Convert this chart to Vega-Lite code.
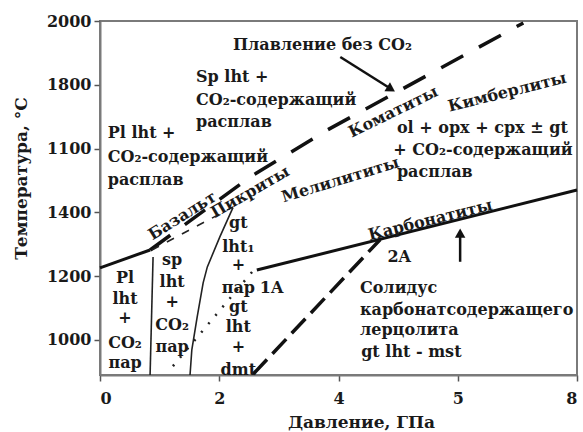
{
  "$schema": "https://vega.github.io/schema/vega-lite/v6.json",
  "width": 477,
  "height": 354,
  "autosize": {"type": "none"},
  "padding": {"left": 100, "top": 21, "right": 6, "bottom": 57},
  "background": "white",
  "config": {
    "view": {"stroke": "#7a7a7a", "strokeWidth": 2},
    "font": "DejaVu Serif",
    "text": {"font": "DejaVu Serif", "fontWeight": "bold", "fontSize": 16, "color": "#1a1a1a", "baseline": "middle"}
  },
  "data": {
    "values": [
      {"kind": "solid3", "id": "s1", "o": 1, "P": 0, "T": 1226},
      {"kind": "solid3", "id": "s1", "o": 2, "P": 0.84, "T": 1282},
      {"kind": "solid3", "id": "carb", "o": 1, "P": 2.63, "T": 1219},
      {"kind": "solid3", "id": "carb", "o": 2, "P": 8, "T": 1470},
      {"kind": "thin", "id": "spgt", "o": 1, "P": 2.23, "T": 1415},
      {"kind": "thin", "id": "spgt", "o": 2, "P": 2.01, "T": 1323},
      {"kind": "thin", "id": "spgt", "o": 3, "P": 1.8, "T": 1229},
      {"kind": "thin", "id": "spgt", "o": 4, "P": 1.73, "T": 1179},
      {"kind": "thin", "id": "spgt", "o": 5, "P": 1.63, "T": 1072},
      {"kind": "thin", "id": "spgt", "o": 6, "P": 1.54, "T": 969},
      {"kind": "thin", "id": "spgt", "o": 7, "P": 1.51, "T": 890},
      {"kind": "thin", "id": "plsp", "o": 1, "P": 0.89, "T": 1260},
      {"kind": "thin", "id": "plsp", "o": 2, "P": 0.84, "T": 890},
      {"kind": "dryDash", "id": "dry", "o": 1, "P": 0.84, "T": 1282},
      {"kind": "dryDash", "id": "dry", "o": 2, "P": 2.52, "T": 1511},
      {"kind": "dryDash", "id": "dry", "o": 3, "P": 3.81, "T": 1658},
      {"kind": "dryDash", "id": "dry", "o": 4, "P": 7.1, "T": 1994},
      {"kind": "decarbDash", "id": "dec", "o": 1, "P": 2.57, "T": 893},
      {"kind": "decarbDash", "id": "dec", "o": 2, "P": 4.7, "T": 1315},
      {"kind": "thinDash", "id": "td", "o": 1, "P": 0.87, "T": 1282},
      {"kind": "thinDash", "id": "td", "o": 2, "P": 2.23, "T": 1417},
      {"kind": "dots", "id": "dt", "o": 1, "P": 2.55, "T": 1213},
      {"kind": "dots", "id": "dt", "o": 2, "P": 1.17, "T": 906},
      {"kind": "arrow", "id": "a1", "o": 1, "P": 4.03, "T": 1887},
      {"kind": "arrow", "id": "a1", "o": 2, "P": 4.83, "T": 1793},
      {"kind": "arrow", "id": "a2", "o": 1, "P": 6.04, "T": 1245},
      {"kind": "arrow", "id": "a2", "o": 2, "P": 6.04, "T": 1326},
      {"kind": "headDR", "P": 4.86, "T": 1789},
      {"kind": "headUp", "P": 6.04, "T": 1330},
      {"kind": "tl", "t": "Pl lht +", "P": 0.13, "T": 1649},
      {"kind": "tl", "t": "CO₂-содержащий", "P": 0.13, "T": 1574},
      {"kind": "tl", "t": "расплав", "P": 0.13, "T": 1502},
      {"kind": "tl", "t": "Sp lht +", "P": 1.61, "T": 1824},
      {"kind": "tl", "t": "CO₂-содержащий", "P": 1.61, "T": 1752},
      {"kind": "tl", "t": "расплав", "P": 1.61, "T": 1683},
      {"kind": "tl", "t": "ol + opx + cpx ± gt", "P": 4.98, "T": 1665},
      {"kind": "tl", "t": "+ CO₂-содержащий", "P": 4.92, "T": 1596},
      {"kind": "tl", "t": "расплав", "P": 4.98, "T": 1527},
      {"kind": "tl", "t": "Солидус", "P": 4.36, "T": 1163},
      {"kind": "tl", "t": "карбонатсодержащего", "P": 4.36, "T": 1094},
      {"kind": "tl", "t": "лерцолита", "P": 4.36, "T": 1031},
      {"kind": "tl", "t": "gt lht - mst", "P": 4.38, "T": 962},
      {"kind": "tl", "t": "Плавление без CO₂", "P": 2.23, "T": 1925},
      {"kind": "tl", "t": "1A", "P": 2.68, "T": 1163},
      {"kind": "tl", "t": "2A", "P": 4.82, "T": 1260},
      {"kind": "tc", "t": "Pl", "P": 0.42, "T": 1194},
      {"kind": "tc", "t": "lht", "P": 0.42, "T": 1129},
      {"kind": "tc", "t": "+", "P": 0.42, "T": 1069},
      {"kind": "tc", "t": "CO₂", "P": 0.42, "T": 991},
      {"kind": "tc", "t": "пар", "P": 0.42, "T": 928},
      {"kind": "tc", "t": "sp", "P": 1.21, "T": 1251},
      {"kind": "tc", "t": "lht", "P": 1.21, "T": 1182},
      {"kind": "tc", "t": "+", "P": 1.21, "T": 1119},
      {"kind": "tc", "t": "CO₂", "P": 1.21, "T": 1047},
      {"kind": "tc", "t": "пар", "P": 1.21, "T": 978},
      {"kind": "tc", "t": "gt", "P": 2.32, "T": 1367},
      {"kind": "tc", "t": "lht₁", "P": 2.32, "T": 1292},
      {"kind": "tc", "t": "+", "P": 2.32, "T": 1235},
      {"kind": "tc", "t": "пар", "P": 2.32, "T": 1163},
      {"kind": "tc", "t": "gt", "P": 2.32, "T": 1103},
      {"kind": "tc", "t": "lht", "P": 2.32, "T": 1041},
      {"kind": "tc", "t": "+", "P": 2.32, "T": 978},
      {"kind": "tc", "t": "dmt", "P": 2.32, "T": 906},
      {"kind": "r32", "t": "Базальт", "P": 1.38, "T": 1389},
      {"kind": "r30", "t": "Пикриты", "P": 2.52, "T": 1464},
      {"kind": "r17", "t": "Мелилититы", "P": 4.03, "T": 1502},
      {"kind": "r26", "t": "Коматиты", "P": 4.92, "T": 1715},
      {"kind": "r14", "t": "Кимберлиты", "P": 6.83, "T": 1777},
      {"kind": "r14", "t": "Карбонатиты", "P": 5.54, "T": 1376}
    ]
  },
  "encoding": {
    "x": {
      "field": "P", "type": "quantitative",
      "scale": {"domain": [0, 8], "nice": false, "zero": false},
      "axis": {
        "values": [0, 2, 4, 6, 8], "grid": false,
        "labelExpr": "datum.value == 6 ? '5' : datum.label",
        "title": "Давление, ГПа",
        "titleFont": "DejaVu Serif", "titleFontWeight": "bold", "titleFontSize": 17, "titleColor": "#1a1a1a",
        "titleX": 261, "titleY": 47, "titleAlign": "center", "titleBaseline": "middle",
        "labelFont": "DejaVu Serif", "labelFontWeight": "bold", "labelFontSize": 16, "labelColor": "#1a1a1a",
        "labelPadding": 9,
        "domainColor": "#7a7a7a", "domainWidth": 2,
        "tickColor": "#555", "tickWidth": 1.5, "tickSize": 6
      }
    },
    "y": {
      "field": "T", "type": "quantitative",
      "scale": {"domain": [890, 2000], "nice": false, "zero": false},
      "axis": {
        "values": [1000, 1200, 1400, 1600, 1800, 2000], "grid": false,
        "labelExpr": "datum.value == 1600 ? '1100' : datum.value",
        "title": "Температура, °С",
        "titleFont": "DejaVu Serif", "titleFontWeight": "bold", "titleFontSize": 17, "titleColor": "#1a1a1a",
        "titleX": -79, "titleY": 157, "titleAlign": "center", "titleBaseline": "middle", "titleAngle": -90,
        "labelFont": "DejaVu Serif", "labelFontWeight": "bold", "labelFontSize": 16, "labelColor": "#1a1a1a",
        "labelPadding": 3,
        "domainColor": "#7a7a7a", "domainWidth": 2,
        "tickColor": "#555", "tickWidth": 1.5, "tickSize": 6
      }
    }
  },
  "layer": [
    {
      "transform": [{"filter": "datum.kind == 'solid3'"}],
      "mark": {"type": "line", "color": "#111", "strokeWidth": 3},
      "encoding": {"detail": {"field": "id"}, "order": {"field": "o"}}
    },
    {
      "transform": [{"filter": "datum.kind == 'thin'"}],
      "mark": {"type": "line", "color": "#222", "strokeWidth": 1.6},
      "encoding": {"detail": {"field": "id"}, "order": {"field": "o"}}
    },
    {
      "transform": [{"filter": "datum.kind == 'dryDash'"}],
      "mark": {"type": "line", "color": "#111", "strokeWidth": 3.5, "strokeDash": [25, 18]},
      "encoding": {"detail": {"field": "id"}, "order": {"field": "o"}}
    },
    {
      "transform": [{"filter": "datum.kind == 'decarbDash'"}],
      "mark": {"type": "line", "color": "#111", "strokeWidth": 3.5, "strokeDash": [20, 8]},
      "encoding": {"detail": {"field": "id"}, "order": {"field": "o"}}
    },
    {
      "transform": [{"filter": "datum.kind == 'thinDash'"}],
      "mark": {"type": "line", "color": "#222", "strokeWidth": 1.6, "strokeDash": [8, 9]},
      "encoding": {"detail": {"field": "id"}, "order": {"field": "o"}}
    },
    {
      "transform": [{"filter": "datum.kind == 'dots'"}],
      "mark": {"type": "line", "color": "#222", "strokeWidth": 2.5, "strokeDash": [2, 9]},
      "encoding": {"detail": {"field": "id"}, "order": {"field": "o"}}
    },
    {
      "transform": [{"filter": "datum.kind == 'arrow'"}],
      "mark": {"type": "line", "color": "#111", "strokeWidth": 2.5},
      "encoding": {"detail": {"field": "id"}, "order": {"field": "o"}}
    },
    {
      "transform": [{"filter": "datum.kind == 'headDR'"}],
      "mark": {"type": "point", "shape": "triangle", "filled": true, "color": "#111", "size": 110, "angle": 122, "opacity": 1}
    },
    {
      "transform": [{"filter": "datum.kind == 'headUp'"}],
      "mark": {"type": "point", "shape": "triangle", "filled": true, "color": "#111", "size": 110, "angle": 0, "opacity": 1}
    },
    {
      "transform": [{"filter": "datum.kind == 'tl'"}],
      "mark": {"type": "text", "align": "left"},
      "encoding": {"text": {"field": "t"}}
    },
    {
      "transform": [{"filter": "datum.kind == 'tc'"}],
      "mark": {"type": "text", "align": "center"},
      "encoding": {"text": {"field": "t"}}
    },
    {
      "transform": [{"filter": "datum.kind == 'r32'"}],
      "mark": {"type": "text", "align": "center", "angle": 328},
      "encoding": {"text": {"field": "t"}}
    },
    {
      "transform": [{"filter": "datum.kind == 'r30'"}],
      "mark": {"type": "text", "align": "center", "angle": 330},
      "encoding": {"text": {"field": "t"}}
    },
    {
      "transform": [{"filter": "datum.kind == 'r26'"}],
      "mark": {"type": "text", "align": "center", "angle": 334},
      "encoding": {"text": {"field": "t"}}
    },
    {
      "transform": [{"filter": "datum.kind == 'r17'"}],
      "mark": {"type": "text", "align": "center", "angle": 343},
      "encoding": {"text": {"field": "t"}}
    },
    {
      "transform": [{"filter": "datum.kind == 'r14'"}],
      "mark": {"type": "text", "align": "center", "angle": 346},
      "encoding": {"text": {"field": "t"}}
    }
  ]
}
